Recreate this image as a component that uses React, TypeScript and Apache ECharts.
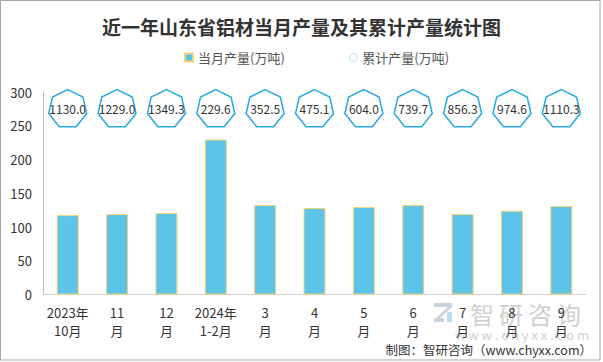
import React, { useEffect, useRef } from "react";
import * as echarts from "echarts";

const categories = ["2023年\n10月", "11\n月", "12\n月", "2024年\n1-2月", "3\n月", "4\n月", "5\n月", "6\n月", "7\n月", "8\n月", "9\n月"];
const monthlyOutput = [117.6, 119.1, 120.6, 229.6, 132.5, 128.0, 129.5, 132.5, 119.1, 124.1, 131.0];
const cumulativeOutput = [1130.0, 1229.0, 1349.3, 229.6, 352.5, 475.1, 604.0, 739.7, 856.3, 974.6, 1110.3];
const markerLevel = 276;
const title = "近一年山东省铝材当月产量及其累计产量统计图";
const seriesNames = ["当月产量(万吨)", "累计产量(万吨)"];
const footer = "制图：智研咨询（www.chyxx.com）";

const heptagon =
  "path://M0,-1 L0.782,-0.623 L0.975,0.223 L0.434,0.901 L-0.434,0.901 L-0.975,0.223 L-0.782,-0.623 Z";

export default function App() {
  const ref = useRef<HTMLDivElement>(null);
  useEffect(() => {
    if (!ref.current) return;
    const chart = echarts.init(ref.current, null, { renderer: "svg" });
    const font = "'Noto Sans CJK SC', 'Noto Sans', sans-serif";
    const wm = ["智", "研", "咨", "询"];
    chart.setOption({
      animation: false,
      textStyle: { fontFamily: font },
      title: {
        text: title,
        left: "center",
        top: 12,
        textStyle: { fontSize: 19, fontWeight: "bold", color: "#333", fontFamily: font },
      },
      legend: {
        left: 179,
        top: 46,
        itemWidth: 8,
        itemHeight: 8,
        itemGap: 64,
        textStyle: { fontSize: 13, color: "#555", fontFamily: font },
        data: [
          { name: seriesNames[0], icon: "rect" },
          {
            name: seriesNames[1],
            icon: "circle",
            itemStyle: { color: "#fff", borderColor: "#a8dcf2", borderWidth: 1 },
          },
        ],
      },
      grid: { left: 43, right: 17, top: 92, bottom: 67.5 },
      xAxis: {
        type: "category",
        data: categories,
        axisTick: { show: false },
        axisLine: { lineStyle: { color: "#d0d0d0" } },
        axisLabel: { color: "#333", fontSize: 13, lineHeight: 18, margin: 9, interval: 0 },
      },
      yAxis: {
        type: "value",
        min: 0,
        max: 300,
        interval: 50,
        splitLine: { show: false },
        axisLine: { show: true, lineStyle: { color: "#bbb" } },
        axisTick: { show: false },
        axisLabel: { color: "#333", fontSize: 13, margin: 11 },
      },
      series: [
        {
          name: seriesNames[0],
          type: "bar",
          data: monthlyOutput,
          barWidth: 22,
          itemStyle: { color: "#5bc4e8", borderColor: "#f5d27a", borderWidth: 1 },
        },
        {
          name: seriesNames[1],
          type: "scatter",
          data: cumulativeOutput.map((v, i) => [i, markerLevel, v]),
          symbol: heptagon,
          symbolSize: [38, 37],
          itemStyle: { color: "#fff", borderColor: "#29abe2", borderWidth: 1.5, opacity: 1 },
          label: {
            show: true,
            position: "inside",
            color: "#333",
            fontSize: 12,
            formatter: (p: any) => Number(p.value[2]).toFixed(1),
          },
          z: 3,
        },
      ],
      graphic: [
        {
          type: "rect",
          shape: { x: 0.5, y: 0.5, width: 599.5, height: 359.5 },
          style: { fill: "none", stroke: "#a6a6a6", lineWidth: 1 },
          silent: true,
        },
        {
          type: "group",
          z: 0,
          children: [
            { type: "rect", shape: { x: 434, y: 303, width: 18, height: 4 }, style: { fill: "#c9d3de" } },
            { type: "polygon", shape: { points: [[448, 307], [452, 307], [440, 318], [436, 318]] }, style: { fill: "#c9d3de" } },
            { type: "rect", shape: { x: 434, y: 318, width: 10, height: 4 }, style: { fill: "#c9d3de" } },
            { type: "rect", shape: { x: 447, y: 312, width: 5, height: 10 }, style: { fill: "#b9dcf0" } },
            ...wm.map((c, i) => ({
              type: "text",
              x: 470 + i * 29,
              y: 313,
              style: {
                text: c,
                fontSize: 24,
                fill: "#d0d0d0",
                fontFamily: font,
                textAlign: "left",
                textVerticalAlign: "middle",
              },
            })),
            {
              type: "text",
              x: 522,
              y: 334,
              style: {
                text: "w w w . c h y x x . c o m",
                fontSize: 13,
                fill: "#d0d0d0",
                fontFamily: font,
                textAlign: "center",
                textVerticalAlign: "middle",
              },
            },
          ],
        },
        {
          type: "text",
          right: 11,
          top: 343,
          style: { text: footer, fontSize: 12.5, fill: "#333", fontFamily: font },
        },
      ],
    });
    return () => chart.dispose();
  }, []);
  return (
    <div
      ref={ref}
      style={{ position: "fixed", left: 0, top: 0, width: 603, height: 362, background: "#fff" }}
    />
  );
}
